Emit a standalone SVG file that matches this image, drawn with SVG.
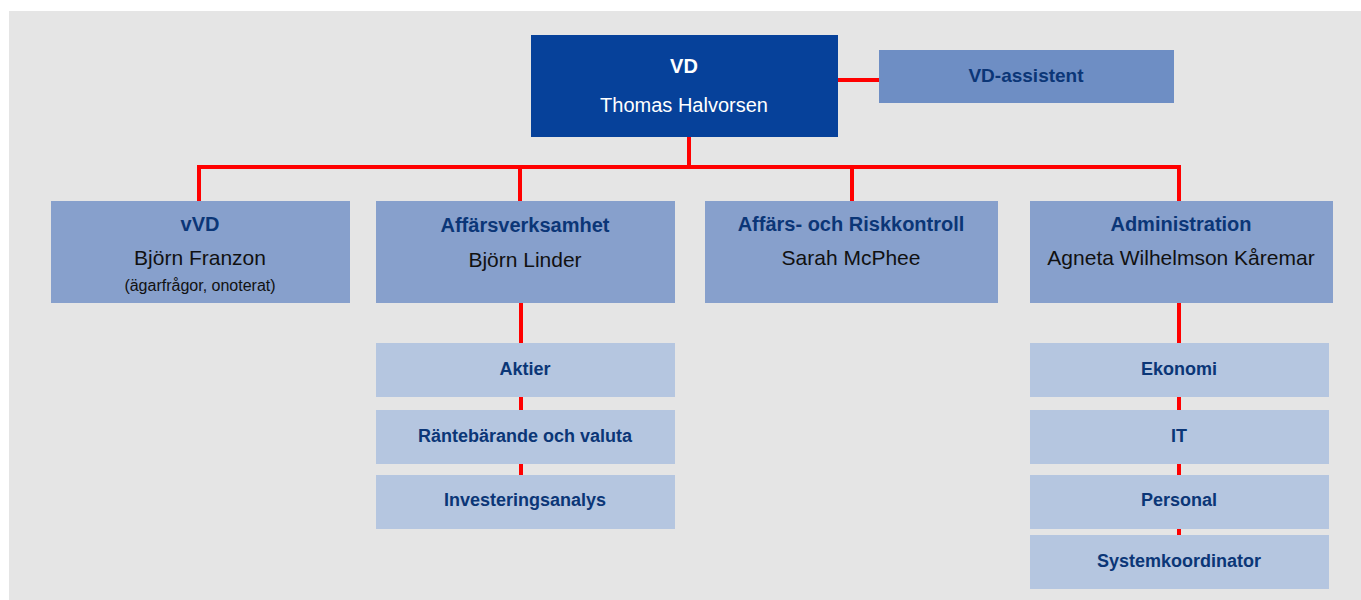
<svg xmlns="http://www.w3.org/2000/svg" width="1361" height="600" viewBox="0 0 1361 600">
<style>
.bg{fill:#e5e5e5}
.top{fill:#06419a}
.asst{fill:#6e8ec4}
.lvl2{fill:#87a0cc}
.lvl3{fill:#b5c6e0}
.ln{stroke:#ff0000;stroke-width:4;fill:none;stroke-linecap:butt}
text{font-family:"Liberation Sans",Arial,sans-serif;text-anchor:middle}
.tw{fill:#ffffff;font-weight:bold;font-size:20px}
.nw{fill:#ffffff;font-size:20px}
.tb{fill:#0b3677;font-weight:bold;font-size:20px}
.nm{fill:#111111;font-size:21px}
.sm{fill:#111111;font-size:16px}
.sb{fill:#0b3677;font-weight:bold;font-size:18px}
</style>
<rect class="bg" x="9" y="11" width="1352" height="589"/>
<g id="connectors">
<line class="ln" x1="838" y1="80" x2="879" y2="80"/>
<line class="ln" x1="689" y1="137" x2="689" y2="167"/>
<polyline class="ln" points="199,201 199,167 1179,167 1179,201"/>
<line class="ln" x1="520" y1="167" x2="520" y2="201"/>
<line class="ln" x1="852" y1="167" x2="852" y2="201"/>
<line class="ln" x1="521" y1="303" x2="521" y2="475"/>
<line class="ln" x1="1179" y1="303" x2="1179" y2="535"/>
</g>
<g id="vd">
<rect class="top" x="531" y="35" width="307" height="102"/>
<text class="tw" x="684" y="73">VD</text>
<text class="nw" x="684" y="112">Thomas Halvorsen</text>
</g>
<g id="vd-assistent">
<rect class="asst" x="879" y="50" width="295" height="53"/>
<text class="tb" x="1026" y="82" style="font-size:19px">VD-assistent</text>
</g>
<g id="vvd">
<rect class="lvl2" x="51" y="201" width="299" height="102"/>
<text class="tb" x="200" y="231">vVD</text>
<text class="nm" x="200" y="265">Björn Franzon</text>
<text class="sm" x="200" y="291">(ägarfrågor, onoterat)</text>
</g>
<g id="affarsverksamhet">
<rect class="lvl2" x="376" y="201" width="299" height="102"/>
<text class="tb" x="525" y="232">Affärsverksamhet</text>
<text class="nm" x="525" y="267">Björn Linder</text>
</g>
<g id="riskkontroll">
<rect class="lvl2" x="705" y="201" width="293" height="102"/>
<text class="tb" x="851" y="231">Affärs- och Riskkontroll</text>
<text class="nm" x="851" y="265">Sarah McPhee</text>
</g>
<g id="administration">
<rect class="lvl2" x="1030" y="201" width="303" height="102"/>
<text class="tb" x="1181" y="231">Administration</text>
<text class="nm" x="1181" y="265">Agneta Wilhelmson Kåremar</text>
</g>
<g id="aktier">
<rect class="lvl3" x="376" y="343" width="299" height="54"/>
<text class="sb" x="525" y="375">Aktier</text>
</g>
<g id="rantebarande">
<rect class="lvl3" x="376" y="410" width="299" height="54"/>
<text class="sb" x="525" y="442">Räntebärande och valuta</text>
</g>
<g id="investeringsanalys">
<rect class="lvl3" x="376" y="475" width="299" height="54"/>
<text class="sb" x="525" y="506">Investeringsanalys</text>
</g>
<g id="ekonomi">
<rect class="lvl3" x="1030" y="343" width="299" height="54"/>
<text class="sb" x="1179" y="375">Ekonomi</text>
</g>
<g id="it">
<rect class="lvl3" x="1030" y="410" width="299" height="54"/>
<text class="sb" x="1179" y="442">IT</text>
</g>
<g id="personal">
<rect class="lvl3" x="1030" y="475" width="299" height="54"/>
<text class="sb" x="1179" y="506">Personal</text>
</g>
<g id="systemkoordinator">
<rect class="lvl3" x="1030" y="535" width="299" height="54"/>
<text class="sb" x="1179" y="567">Systemkoordinator</text>
</g>
</svg>
